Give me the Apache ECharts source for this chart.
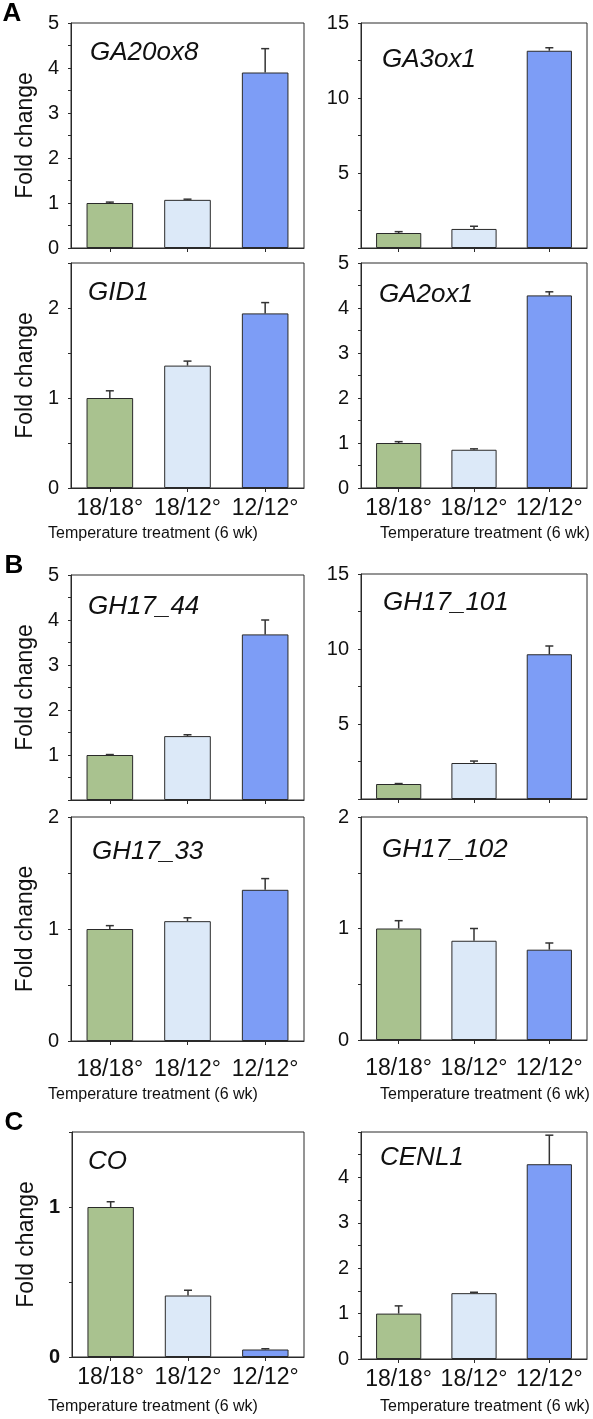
<!DOCTYPE html>
<html>
<head>
<meta charset="utf-8">
<script src="https://cdn.jsdelivr.net/npm/echarts@6/dist/echarts.min.js"></script>
<style>
html,body{margin:0;padding:0;background:#fff;}
#chart{width:593px;height:1419px;}
</style>
</head>
<body>
<div id="chart"></div>
<script>
// ---------- DATA ----------
const categories = ['18/18°', '18/12°', '12/12°'];
const genes = ['GA20ox8', 'GA3ox1', 'GID1', 'GA2ox1', 'GH17_44', 'GH17_101', 'GH17_33', 'GH17_102', 'CO', 'CENL1'];

const ga20ox8Mean = [1.0, 1.07, 3.9];   const ga20ox8Err = [0.02, 0.015, 0.53];
const ga3ox1Mean  = [1.0, 1.27, 13.15]; const ga3ox1Err  = [0.09, 0.18, 0.2];
const gid1Mean    = [1.0, 1.36, 1.94];  const gid1Err    = [0.08, 0.05, 0.12];
const ga2ox1Mean  = [1.0, 0.85, 4.28];  const ga2ox1Err  = [0.03, 0.02, 0.08];
const gh17_44Mean = [1.0, 1.42, 3.68];  const gh17_44Err = [0.01, 0.03, 0.32];
const gh17_101Mean= [1.0, 2.4, 9.65];   const gh17_101Err= [0.03, 0.13, 0.55];
const gh17_33Mean = [1.0, 1.07, 1.35];  const gh17_33Err = [0.03, 0.03, 0.1];
const gh17_102Mean= [1.0, 0.89, 0.81];  const gh17_102Err= [0.07, 0.11, 0.06];
const coMean      = [1.0, 0.41, 0.05];  const coErr      = [0.035, 0.035, 0.005];
const cenl1Mean   = [1.0, 1.45, 4.29];  const cenl1Err   = [0.17, 0.02, 0.64];

// y-axis ranges and tick labels
const yMax      = [5, 15, 2.5, 5, 5, 15, 2, 2, 1.5, 5];
const yStep     = [0.5, 2.5, 0.5, 0.5, 0.5, 2.5, 0.5, 0.5, 0.5, 0.5];
const yLabels   = [[0,1,2,3,4,5],[5,10,15],[0,1,2],[0,1,2,3,4,5],[1,2,3,4,5],[5,10,15],[0,1,2],[0,1,2],[0,1],[0,1,2,3,4]];
const panelLetters = ['A', 'B', 'C'];
const xTitle = 'Temperature treatment (6 wk)';
const yTitle = 'Fold change';

const means = [ga20ox8Mean, ga3ox1Mean, gid1Mean, ga2ox1Mean, gh17_44Mean, gh17_101Mean, gh17_33Mean, gh17_102Mean, coMean, cenl1Mean];
const errs  = [ga20ox8Err, ga3ox1Err, gid1Err, ga2ox1Err, gh17_44Err, gh17_101Err, gh17_33Err, gh17_102Err, coErr, cenl1Err];

// ---------- STYLE / LAYOUT ----------
const FONT = 'Liberation Sans, Arial, Helvetica, sans-serif';
const barColors = ['#a9c28f', '#dce9f8', '#7d9df6'];
const lineColor = '#2a2a2a';
const grids = [
  {left: 71,  top: 23,   width: 233, height: 225},
  {left: 361, top: 23,   width: 226, height: 225},
  {left: 71,  top: 263,  width: 233, height: 225},
  {left: 361, top: 263,  width: 226, height: 225},
  {left: 71,  top: 575,  width: 233, height: 225},
  {left: 361, top: 574,  width: 226, height: 225},
  {left: 71,  top: 817,  width: 233, height: 224},
  {left: 361, top: 817,  width: 226, height: 223},
  {left: 72,  top: 1132, width: 232, height: 225},
  {left: 361, top: 1132, width: 226, height: 227}
];
const showCatLabels = [false, false, true, true, false, false, true, true, true, true];
const catMargin = [0, 0, 9, 9, 0, 0, 17, 17, 9, 9];
const geneLabelPos = [[90,53],[382,60],[88,293],[379,295],[88,607],[383,603],[92,852],[382,850],[88,1162],[380,1158]];
const xTitlePos = [[153,534],[485,534],[153,1095],[485,1095],[153,1407],[485,1407]];
const letterPos = [[12,14],[14,566],[14,1123]];

const option = {
  animation: false,
  backgroundColor: '#fff',
  textStyle: {fontFamily: FONT},
  grid: grids.map(g => Object.assign({show: true, borderColor: lineColor, borderWidth: 1, backgroundColor: 'transparent', containLabel: false}, g)),
  xAxis: grids.map((g, i) => ({
    type: 'category', gridIndex: i, data: categories,
    axisLine: {show: true, lineStyle: {color: lineColor, width: 1}},
    axisTick: {show: true, alignWithLabel: true, length: 4, lineStyle: {color: lineColor}},
    axisLabel: {show: showCatLabels[i], color: '#111', fontSize: 23, fontFamily: FONT, margin: catMargin[i], interval: 0},
    splitLine: {show: false}
  })),
  yAxis: grids.map((g, i) => ({
    type: 'value', gridIndex: i, min: 0, max: yMax[i], interval: yStep[i],
    name: (i % 2 === 0) ? yTitle : '',
    nameLocation: 'middle', nameGap: 34, nameRotate: 90,
    nameTextStyle: {fontSize: 23, color: '#111', fontFamily: FONT},
    axisLine: {show: true, lineStyle: {color: lineColor, width: 1}},
    axisTick: {show: true, length: 3, inside: false, lineStyle: {color: lineColor}},
    axisLabel: {
      show: true, color: '#111', fontSize: 20, fontFamily: FONT, margin: 12,
      fontWeight: i === 8 ? 'bold' : 'normal',
      showMinLabel: true, showMaxLabel: true,
      formatter: v => yLabels[i].some(l => Math.abs(l - v) < 1e-9) ? String(v) : ''
    },
    splitLine: {show: false}
  })),
  series: [],
  graphic: []
};

means.forEach((m, i) => {
  option.series.push({
    type: 'bar', xAxisIndex: i, yAxisIndex: i, barWidth: '60%',
    data: m.map((v, k) => ({value: v, itemStyle: {color: barColors[k], borderColor: lineColor, borderWidth: 1}})),
    z: 2
  });
  option.series.push({
    type: 'custom', xAxisIndex: i, yAxisIndex: i, z: 3,
    data: m.map((v, k) => [k, v, errs[i][k]]),
    encode: {x: 0, y: 1},
    renderItem: (params, api) => {
      const k = api.value(0), v = api.value(1), e = api.value(2);
      const p0 = api.coord([k, v]);
      const p1 = api.coord([k, v + e]);
      const st = {stroke: '#333', lineWidth: 1.5};
      return {type: 'group', children: [
        {type: 'line', shape: {x1: p0[0], y1: p0[1], x2: p1[0], y2: p1[1]}, style: st},
        {type: 'line', shape: {x1: p1[0] - 4, y1: p1[1], x2: p1[0] + 4, y2: p1[1]}, style: st}
      ]};
    }
  });
  option.graphic.push({
    type: 'text', x: geneLabelPos[i][0], y: geneLabelPos[i][1],
    style: {text: genes[i], font: 'italic 26px ' + FONT, fill: '#111', verticalAlign: 'middle', align: 'left'}
  });
});

xTitlePos.forEach(p => option.graphic.push({
  type: 'text', x: p[0], y: p[1],
  style: {text: xTitle, font: '16px ' + FONT, fill: '#111', align: 'center', verticalAlign: 'middle'}
}));
panelLetters.forEach((L, j) => option.graphic.push({
  type: 'text', x: letterPos[j][0], y: letterPos[j][1],
  style: {text: L, font: 'bold 26px ' + FONT, fill: '#000', align: 'center', verticalAlign: 'middle'}
}));

const chart = echarts.init(document.getElementById('chart'), null, {renderer: 'canvas'});
chart.setOption(option);
</script>
</body>
</html>
